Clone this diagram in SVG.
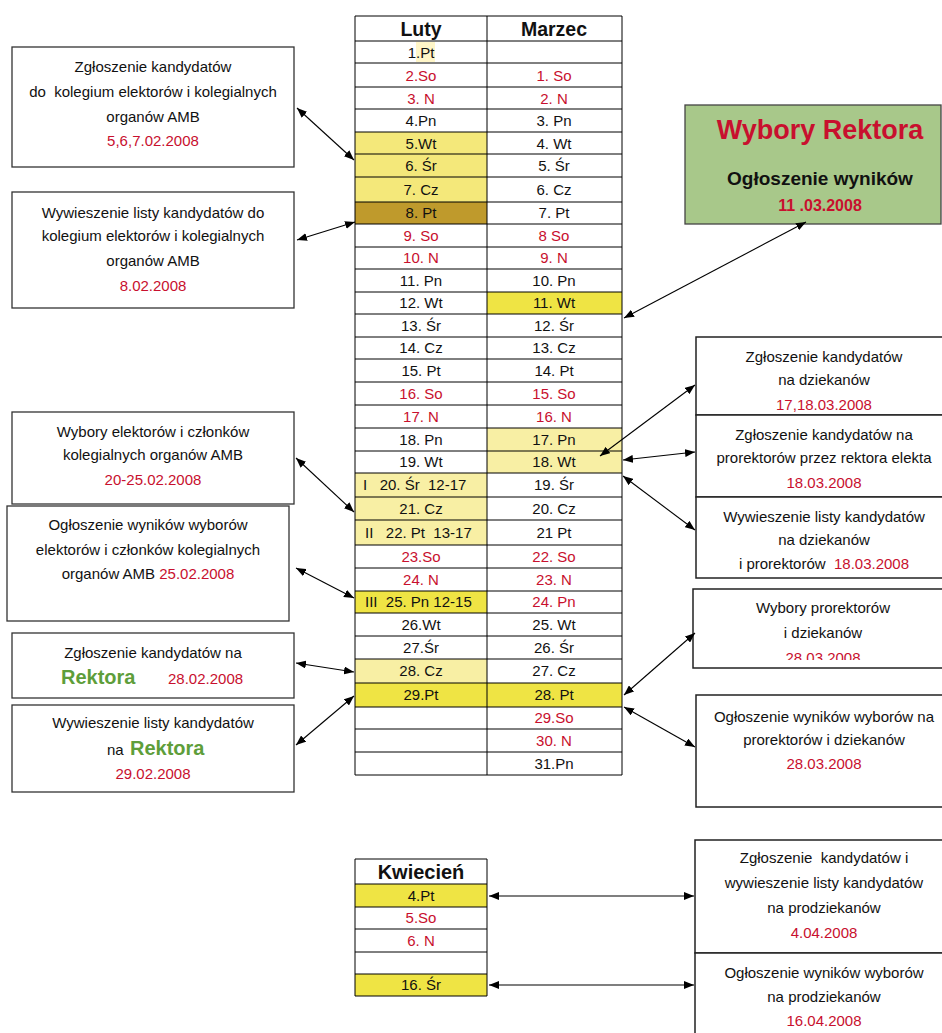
<svg xmlns="http://www.w3.org/2000/svg" width="942" height="1033" viewBox="0 0 942 1033">
<style>
text{font-family:"Liberation Sans",Arial,sans-serif;font-size:15px;fill:#111;text-anchor:middle}
.r{fill:#C8102E}
.g{fill:#5E9E3A;font-weight:bold;font-size:20px}
.h{font-weight:bold;font-size:19.5px}
.box{fill:#fff;stroke:#333;stroke-width:1.3}
.rbox{fill:#fff;stroke:#222;stroke-width:1.5}
.grid{stroke:#000;stroke-width:1;fill:none}
.y1{fill:#F8EFA4}.y2{fill:#F4E87A}.y3{fill:#EFE444}.gold{fill:#BF9A2C}
.c{stroke:#000;stroke-width:1.1;fill:none;marker-start:url(#ah);marker-end:url(#ah)}
</style>
<defs>
<marker id="ah" viewBox="0 0 10 8" refX="10" refY="4" markerWidth="10" markerHeight="8" markerUnits="userSpaceOnUse" orient="auto-start-reverse"><path d="M0,0 L10,4 L0,8 z" fill="#000"/></marker>
<clipPath id="cp1"><rect x="693" y="589" width="260" height="71"/></clipPath>
</defs>
<rect width="942" height="1033" fill="#fff"/>

<g id="table-feb-mar">
<rect x="416" y="42" width="19" height="20" style="fill:#FFF6C8"/>
<rect class="y2" x="355" y="132" width="132" height="70"/>
<rect class="gold" x="355" y="202" width="132" height="22"/>
<rect class="y3" x="487" y="292" width="135" height="22"/>
<rect class="y1" x="487" y="428" width="135" height="45"/>
<rect class="y1" x="355" y="473" width="132" height="72"/>
<rect class="y3" x="355" y="591" width="132" height="22"/>
<rect class="y1" x="355" y="659" width="132" height="24"/>
<rect class="y3" x="355" y="683" width="267" height="24"/>
<path class="grid" d="M355,16 H622 V775 H355 Z M487,16 V775 M355,41 H622 M355,63 H622 M355,87 H622 M355,109 H622 M355,132 H622 M355,154 H622 M355,177 H622 M355,202 H622 M355,224 H622 M355,247 H622 M355,269 H622 M355,292 H622 M355,314 H622 M355,337 H622 M355,359 H622 M355,382 H622 M355,405 H622 M355,428 H622 M355,451 H622 M355,473 H622 M355,497 H622 M355,520 H622 M355,545 H622 M355,568 H622 M355,591 H622 M355,613 H622 M355,636 H622 M355,659 H622 M355,683 H622 M355,707 H622 M355,729 H622 M355,752 H622"/>
<text class="h" x="421" y="36">Luty</text>
<text class="h" x="554" y="36">Marzec</text>
<g>
<text x="421" y="58">1.Pt</text>
<text x="421" y="81" class="r">2.So</text><text x="554" y="81" class="r">1. So</text>
<text x="421" y="104" class="r">3. N</text><text x="554" y="104" class="r">2. N</text>
<text x="421" y="126">4.Pn</text><text x="554" y="126">3. Pn</text>
<text x="421" y="149">5.Wt</text><text x="554" y="149">4. Wt</text>
<text x="421" y="171">6. Śr</text><text x="554" y="171">5. Śr</text>
<text x="421" y="195">7. Cz</text><text x="554" y="195">6. Cz</text>
<text x="421" y="218">8. Pt</text><text x="554" y="218">7. Pt</text>
<text x="421" y="241" class="r">9. So</text><text x="554" y="241" class="r">8 So</text>
<text x="421" y="263" class="r">10. N</text><text x="554" y="263" class="r">9. N</text>
<text x="421" y="286">11. Pn</text><text x="554" y="286">10. Pn</text>
<text x="421" y="308">12. Wt</text><text x="554" y="308">11. Wt</text>
<text x="421" y="331">13. Śr</text><text x="554" y="331">12. Śr</text>
<text x="421" y="353">14. Cz</text><text x="554" y="353">13. Cz</text>
<text x="421" y="376">15. Pt</text><text x="554" y="376">14. Pt</text>
<text x="421" y="399" class="r">16. So</text><text x="554" y="399" class="r">15. So</text>
<text x="421" y="422" class="r">17. N</text><text x="554" y="422" class="r">16. N</text>
<text x="421" y="445">18. Pn</text><text x="554" y="445">17. Pn</text>
<text x="421" y="467">19. Wt</text><text x="554" y="467">18. Wt</text>
<text x="363" y="490" style="text-anchor:start" xml:space="preserve">I   20. Śr  12-17</text><text x="554" y="490">19. Śr</text>
<text x="421" y="514">21. Cz</text><text x="554" y="514">20. Cz</text>
<text x="365" y="538" style="text-anchor:start" xml:space="preserve">II   22. Pt  13-17</text><text x="554" y="538">21 Pt</text>
<text x="421" y="562" class="r">23.So</text><text x="554" y="562" class="r">22. So</text>
<text x="421" y="585" class="r">24. N</text><text x="554" y="585" class="r">23. N</text>
<text x="365" y="607" style="text-anchor:start" xml:space="preserve">III  25. Pn 12-15</text><text x="554" y="607" class="r">24. Pn</text>
<text x="421" y="630">26.Wt</text><text x="554" y="630">25. Wt</text>
<text x="421" y="653">27.Śr</text><text x="554" y="653">26. Śr</text>
<text x="421" y="676">28. Cz</text><text x="554" y="676">27. Cz</text>
<text x="421" y="700">29.Pt</text><text x="554" y="700">28. Pt</text>
<text x="554" y="723" class="r">29.So</text>
<text x="554" y="746" class="r">30. N</text>
<text x="554" y="769">31.Pn</text>
</g>
</g>

<g id="table-apr">
<rect class="y3" x="355" y="884" width="132" height="23"/>
<rect class="y3" x="355" y="974" width="132" height="22"/>
<path class="grid" d="M355,859 H487 V996 H355 Z M355,884 H487 M355,907 H487 M355,929 H487 M355,952 H487 M355,974 H487"/>
<text x="421" y="879" style="font-weight:bold;font-size:20px">Kwiecień</text>
<text x="421" y="901">4.Pt</text>
<text x="421" y="923" class="r">5.So</text>
<text x="421" y="946" class="r">6. N</text>
<text x="421" y="990">16. Śr</text>
</g>

<g id="n-kolegium-zgl">
<rect class="box" x="12" y="47" width="282" height="120"/>
<text x="153" y="72">Zgłoszenie kandydatów</text>
<text x="153" y="97" xml:space="preserve">do  kolegium elektorów i kolegialnych</text>
<text x="153" y="122">organów AMB</text>
<text x="153" y="146" class="r">5,6,7.02.2008</text>
</g>
<g id="n-kolegium-lista">
<rect class="box" x="12" y="192" width="282" height="116"/>
<text x="153" y="218">Wywieszenie listy kandydatów do</text>
<text x="153" y="241">kolegium elektorów i kolegialnych</text>
<text x="153" y="266">organów AMB</text>
<text x="153" y="291" class="r">8.02.2008</text>
</g>
<g id="n-wybory-elektorow">
<rect class="box" x="12" y="412" width="282" height="92"/>
<text x="153" y="437">Wybory elektorów i członków</text>
<text x="153" y="460">kolegialnych organów AMB</text>
<text x="153" y="485" class="r">20-25.02.2008</text>
</g>
<g id="n-wyniki-elektorow">
<rect class="box" x="7" y="506" width="282" height="115"/>
<text x="148" y="530">Ogłoszenie wyników wyborów</text>
<text x="148" y="555">elektorów i członków kolegialnych</text>
<text x="148" y="579">organów AMB <tspan class="r">25.02.2008</tspan></text>
</g>
<g id="n-rektor-zgl">
<rect class="box" x="12" y="633" width="282" height="65"/>
<text x="153" y="658">Zgłoszenie kandydatów na</text>
<text x="61" y="684" class="g" style="text-anchor:start">Rektora</text>
<text x="168" y="684" class="r" style="text-anchor:start">28.02.2008</text>
</g>
<g id="n-rektor-lista">
<rect class="box" x="12" y="705" width="282" height="87"/>
<text x="153" y="728">Wywieszenie listy kandydatów</text>
<text x="107" y="755" style="text-anchor:start">na</text>
<text x="130" y="755" class="g" style="text-anchor:start">Rektora</text>
<text x="153" y="779" class="r">29.02.2008</text>
</g>

<g id="n-wybory-rektora">
<rect x="685" y="105" width="256" height="119" fill="#A8C88A" stroke="#444" stroke-width="1.3"/>
<text x="820" y="139" style="font-weight:bold;font-size:27px;fill:#C8102E">Wybory Rektora</text>
<text x="820" y="185" style="font-weight:bold;font-size:19px">Ogłoszenie wyników</text>
<text x="820" y="211" style="font-weight:bold;font-size:16px;fill:#C8102E">11 .03.2008</text>
</g>
<g id="n-dziekani-zgl">
<rect class="rbox" x="696" y="337" width="256" height="78"/>
<text x="824" y="362">Zgłoszenie kandydatów</text>
<text x="824" y="385">na dziekanów</text>
<text x="824" y="410" class="r">17,18.03.2008</text>
</g>
<g id="n-prorektorzy-zgl">
<rect class="rbox" x="696" y="415" width="256" height="82"/>
<text x="824" y="440">Zgłoszenie kandydatów na</text>
<text x="824" y="463">prorektorów przez rektora elekta</text>
<text x="824" y="488" class="r">18.03.2008</text>
</g>
<g id="n-lista-dziekani">
<rect class="rbox" x="696" y="497" width="256" height="81"/>
<text x="824" y="522">Wywieszenie listy kandydatów</text>
<text x="824" y="545">na dziekanów</text>
<text x="824" y="569" xml:space="preserve">i prorektorów  <tspan class="r">18.03.2008</tspan></text>
</g>
<g id="n-wybory-prorektorow">
<rect class="rbox" x="693" y="589" width="260" height="79"/>
<g clip-path="url(#cp1)">
<text x="823" y="613">Wybory prorektorów</text>
<text x="823" y="638">i dziekanów</text>
<text x="823" y="663" class="r">28.03.2008</text>
</g>
</g>
<g id="n-wyniki-prorektorow">
<rect class="rbox" x="696" y="695" width="256" height="112"/>
<text x="824" y="722">Ogłoszenie wyników wyborów na</text>
<text x="824" y="745">prorektorów i dziekanów</text>
<text x="824" y="769" class="r">28.03.2008</text>
</g>
<g id="n-prodziekani-zgl">
<rect class="rbox" x="695" y="840" width="258" height="113"/>
<text x="824" y="863" xml:space="preserve">Zgłoszenie  kandydatów i</text>
<text x="824" y="888">wywieszenie listy kandydatów</text>
<text x="824" y="913">na prodziekanów</text>
<text x="824" y="938" class="r">4.04.2008</text>
</g>
<g id="n-prodziekani-wyniki">
<rect class="rbox" x="695" y="953" width="258" height="90"/>
<text x="824" y="978">Ogłoszenie wyników wyborów</text>
<text x="824" y="1002">na prodziekanów</text>
<text x="824" y="1026" class="r">16.04.2008</text>
</g>

<g id="connectors">
<line class="c" x1="297" y1="108" x2="354" y2="160"/>
<line class="c" x1="297" y1="240" x2="355" y2="222"/>
<line class="c" x1="624" y1="318" x2="806" y2="222"/>
<line class="c" x1="296" y1="458" x2="354" y2="512"/>
<line class="c" x1="296" y1="568" x2="354" y2="598"/>
<line class="c" x1="296" y1="663" x2="354" y2="672"/>
<line class="c" x1="296" y1="745" x2="354" y2="696"/>
<line class="c" x1="600" y1="456" x2="695" y2="385"/>
<line class="c" x1="623" y1="460" x2="695" y2="452"/>
<line class="c" x1="623" y1="476" x2="695" y2="530"/>
<line class="c" x1="624" y1="695" x2="695" y2="633"/>
<line class="c" x1="624" y1="707" x2="695" y2="747"/>
<line class="c" x1="489" y1="896" x2="694" y2="896"/>
<line class="c" x1="489" y1="985" x2="694" y2="985"/>
</g>
</svg>
